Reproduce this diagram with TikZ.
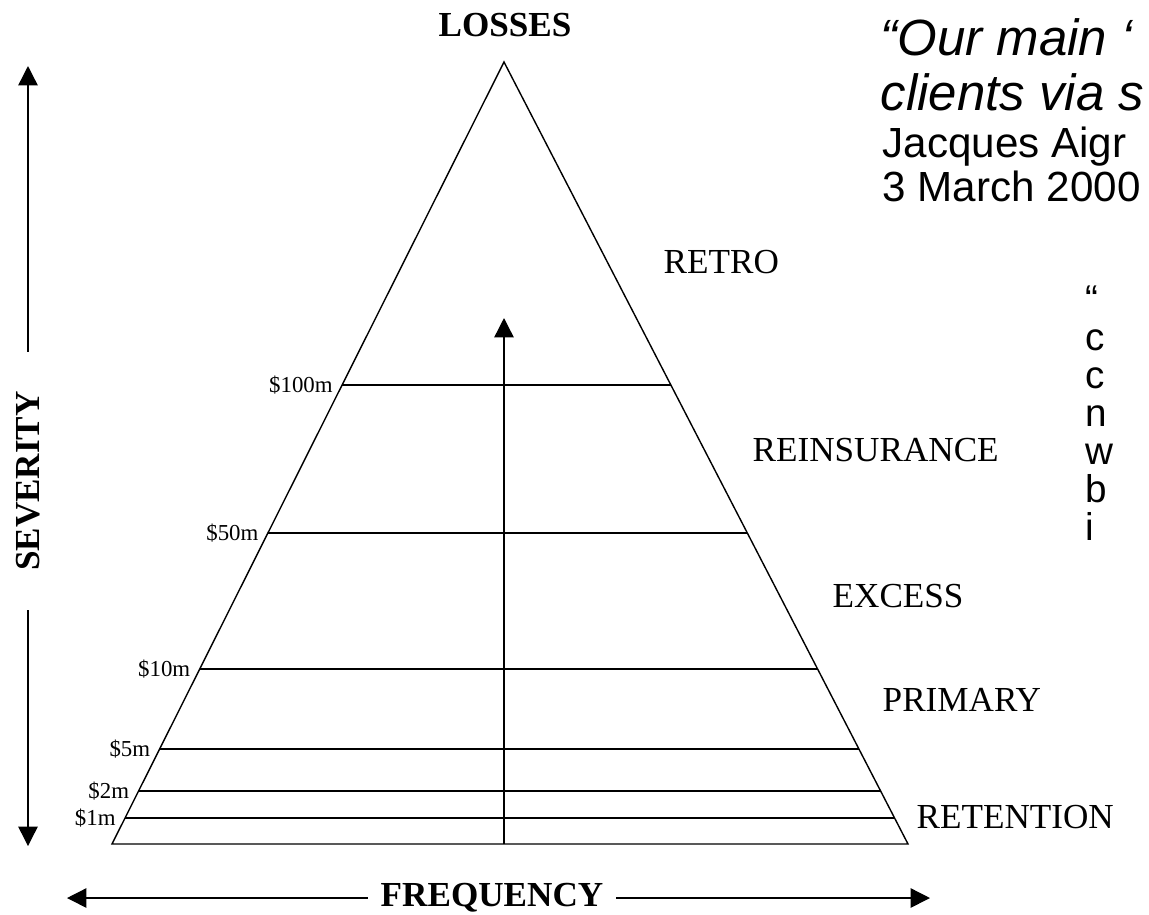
\documentclass[tikz,border=0pt]{standalone}
\usepackage{fontspec}
\setmainfont{Liberation Serif}
\newfontfamily\quotefont{Liberation Sans}
\usetikzlibrary{arrows.meta,calc,positioning}

\begin{document}
\begin{tikzpicture}[x=0.02cm,y=-0.02cm,line width=0.8pt,
    >={Triangle[length=11pt,width=11pt]}]
    \useasboundingbox (0,0) rectangle (1149,914);
    \clip (0,0) rectangle (1149,914);

    \coordinate (apex) at (504,62);
    \coordinate (bl) at (112,844);
    \coordinate (br) at (908,844);
    \draw (apex) -- (bl) -- (br) -- cycle;

    \foreach \t/\lab/\nm in {0.4130/\$100m/a,0.6023/\$50m/b,0.7762/\$10m/c,
        0.8785/\$5m/d,0.9322/\$2m/e,0.9668/\$1m/f}{
      \coordinate (l\nm) at ($(apex)!\t!(bl)$);
      \coordinate (r\nm) at ($(apex)!\t!(br)$);
      \draw (l\nm) -- (r\nm);
      \node[font=\fontsize{13}{15}\selectfont,inner sep=0pt,left=5pt of l\nm] (m\nm) {\lab};
    }

    \coordinate (tip) at (504,318);
    \draw[->] (apex |- bl) -- (tip);

    \begin{scope}[every node/.style={font=\bfseries\fontsize{20}{24}\selectfont}]
      \node (losses) at (505,25) {LOSSES};
      \node[rotate=90,inner xsep=22pt] (sev) at (28,481) {SEVERITY};
      \node[inner xsep=7pt] (freq) at (492,898) {FREQUENCY};
    \end{scope}

    \coordinate (sevtop) at (28,66);
    \coordinate (sevbot) at (28,846);
    \coordinate (freqleft) at (67,898);
    \coordinate (freqright) at (930,898);
    \draw[->] (sev.east) -- (sevtop);
    \draw[->] (sev.west) -- (sevbot);
    \draw[->] (freq.west) -- (freqleft);
    \draw[->] (freq.east) -- (freqright);

    \begin{scope}[every node/.style={anchor=west,inner sep=0pt,
        font=\fontsize{20}{24}\selectfont}]
      \node (retro) at (663,262) {RETRO};
      \node (reins) at (752,450) {REINSURANCE};
      \node (excess) at (832,596) {EXCESS};
      \node (primary) at (882,700) {PRIMARY};
      \node (retention) at (916,817) {RETENTION};
    \end{scope}

    \begin{scope}[every node/.style={anchor=west,inner sep=0pt}]
      \node[font=\quotefont\itshape\fontsize{29}{34}\selectfont] (qa) at (880,37) {“Our main ‘};
      \node[font=\quotefont\itshape\fontsize{29}{34}\selectfont] (qb) at (880,92) {clients via s};
      \node[font=\quotefont\fontsize{24}{28}\selectfont] (who) at (882,147) {Jacques Aigr};
      \node[font=\quotefont\fontsize{24}{28}\selectfont] (when) at (882,186) {3 March 2000};
    \end{scope}

    \foreach \ch [count=\i] in {“,c,c,n,w,b,i}
      \node[font=\quotefont\fontsize{22}{26}\selectfont,anchor=base west,inner sep=0pt]
        (col\i) at (1085,{312+38*(\i-1)}) {\ch};
\end{tikzpicture}
\end{document}
